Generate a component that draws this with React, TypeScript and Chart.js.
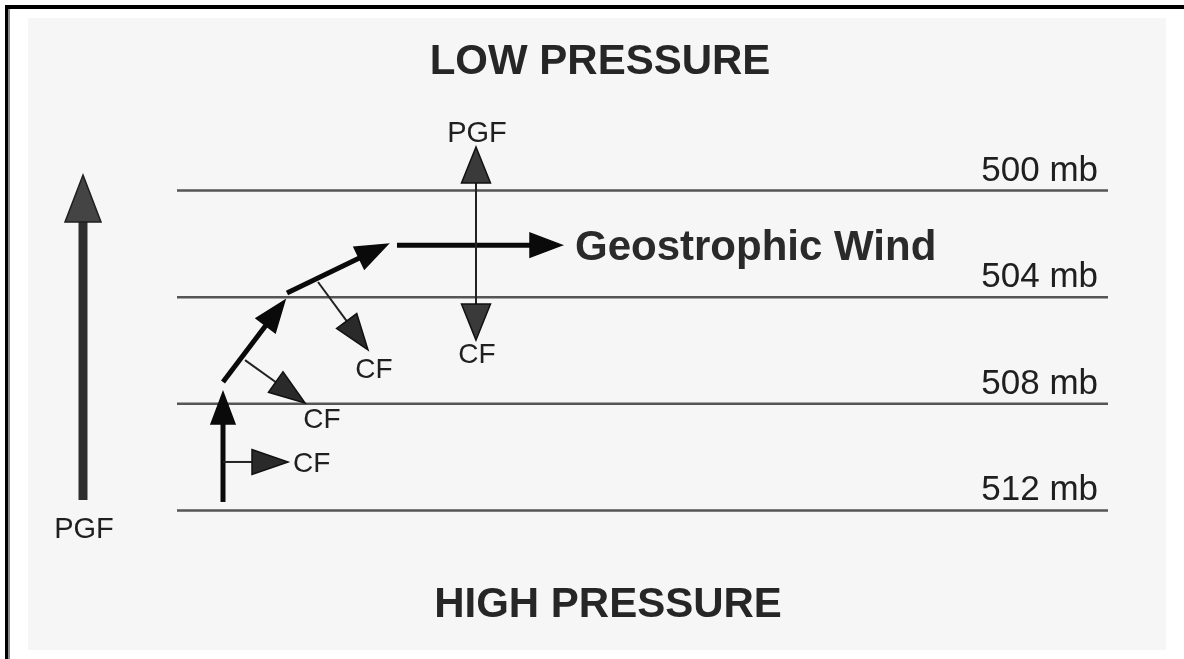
import React, { useEffect, useRef } from "react";
import { Chart, registerables } from "chart.js";

Chart.register(...registerables);

// Isobars (pressure levels, mb)
const isobars = [500, 504, 508, 512];
const isobarLabels = ["500 mb", "504 mb", "508 mb", "512 mb"];
const isobarExtent = [177, 1108]; // horizontal distance units

// Arrows: [x0, p0, x1, p1]  (distance units, pressure mb)
const windPath = [
  [223, 511.68, 223, 507.56],
  [223, 507.18, 285, 504.11],
  [287, 503.84, 388, 502.01],
  [397, 502.05, 562, 502.05],
];
const coriolisArrows = [
  [223, 510.18, 288, 510.18],
  [245, 506.36, 305, 507.97],
  [318, 503.43, 368, 505.98],
];
const balanceArrows = [
  [476, 502.05, 476, 498.37],
  [476, 502.05, 476, 505.61],
];
const bigPgfArrow = [[83, 511.61, 83, 499.42]];

// Text labels: [text, x, p]
const cfLabels = [
  ["CF", 293, 510.56],
  ["CF", 322, 508.91],
  ["CF", 374, 507.03],
  ["CF", 477, 506.47],
];
const pgfLabels = [
  ["PGF", 477, 498.18],
  ["PGF", 84, 513.03],
];
const titleLabels = [
  ["LOW PRESSURE", 600, 495.63],
  ["HIGH PRESSURE", 608, 515.99],
];
const windLabel = ["Geostrophic Wind", 575, 502.61];

const FONT = '"Liberation Sans", Arial, Helvetica, sans-serif';

type Style = { w: number; color: string; headLen: number; headW: number; headFill: string; headStroke: string };
const groups: { arrows: number[][]; style: Style }[] = [
  { arrows: bigPgfArrow, style: { w: 9, color: "#2e2e2e", headLen: 47, headW: 36, headFill: "#444", headStroke: "#1e1e1e" } },
  { arrows: windPath, style: { w: 5, color: "#0a0a0a", headLen: 32, headW: 24, headFill: "#0a0a0a", headStroke: "#0a0a0a" } },
  { arrows: coriolisArrows, style: { w: 2, color: "#222", headLen: 36, headW: 25, headFill: "#2a2a2a", headStroke: "#111" } },
  { arrows: balanceArrows, style: { w: 2, color: "#222", headLen: 36, headW: 29, headFill: "#3a3a3a", headStroke: "#111" } },
];

const diagramPlugin = {
  id: "diagram",
  afterDatasetsDraw(chart: any) {
    const { ctx, scales } = chart;
    const xs = scales.x;
    const ys = scales.y;
    ctx.save();
    for (const g of groups) {
      const s = g.style;
      for (const a of g.arrows) {
        const x0 = xs.getPixelForValue(a[0]);
        const y0 = ys.getPixelForValue(a[1]);
        const x1 = xs.getPixelForValue(a[2]);
        const y1 = ys.getPixelForValue(a[3]);
        const len = Math.hypot(x1 - x0, y1 - y0);
        const ux = (x1 - x0) / len;
        const uy = (y1 - y0) / len;
        const bx = x1 - ux * s.headLen;
        const by = y1 - uy * s.headLen;
        ctx.beginPath();
        ctx.moveTo(x0, y0);
        ctx.lineTo(bx + ux * 2, by + uy * 2);
        ctx.lineWidth = s.w;
        ctx.strokeStyle = s.color;
        ctx.lineCap = "butt";
        ctx.stroke();
        const px = -uy;
        const py = ux;
        ctx.beginPath();
        ctx.moveTo(x1, y1);
        ctx.lineTo(bx + px * s.headW / 2, by + py * s.headW / 2);
        ctx.lineTo(bx - px * s.headW / 2, by - py * s.headW / 2);
        ctx.closePath();
        ctx.fillStyle = s.headFill;
        ctx.fill();
        ctx.lineWidth = 1.5;
        ctx.lineJoin = "miter";
        ctx.strokeStyle = s.headStroke;
        ctx.stroke();
      }
    }
    ctx.textBaseline = "alphabetic";
    ctx.fillStyle = "#1f1f1f";
    // isobar labels
    ctx.font = `35px ${FONT}`;
    ctx.textAlign = "right";
    isobars.forEach((p, i) => {
      ctx.fillText(isobarLabels[i], xs.getPixelForValue(1098), ys.getPixelForValue(p - 0.375));
    });
    ctx.font = `28px ${FONT}`;
    ctx.textAlign = "left";
    const first = cfLabels[0];
    ctx.fillText(first[0] as string, xs.getPixelForValue(first[1] as number), ys.getPixelForValue(first[2] as number));
    ctx.textAlign = "center";
    cfLabels.slice(1).forEach((l) => {
      ctx.fillText(l[0] as string, xs.getPixelForValue(l[1] as number), ys.getPixelForValue(l[2] as number));
    });
    ctx.font = `29px ${FONT}`;
    pgfLabels.forEach((l) => {
      ctx.fillText(l[0] as string, xs.getPixelForValue(l[1] as number), ys.getPixelForValue(l[2] as number));
    });
    ctx.fillStyle = "#262626";
    ctx.font = `bold 42px ${FONT}`;
    titleLabels.forEach((l) => {
      ctx.fillText(l[0] as string, xs.getPixelForValue(l[1] as number), ys.getPixelForValue(l[2] as number));
    });
    ctx.textAlign = "left";
    ctx.fillStyle = "#2a2a2a";
    ctx.font = `bold 42px ${FONT}`;
    ctx.fillText(windLabel[0] as string, xs.getPixelForValue(windLabel[1] as number), ys.getPixelForValue(windLabel[2] as number));
    ctx.restore();
  },
};

export default function App() {
  const ref = useRef<HTMLCanvasElement | null>(null);
  useEffect(() => {
    if (!ref.current) return;
    const datasets = isobars.map((p) => ({
      label: `${p} mb`,
      data: isobarExtent.map((x) => ({ x, y: p })),
      showLine: true,
      borderColor: "#555",
      borderWidth: 2.5,
      pointRadius: 0,
      fill: false,
    }));
    const chart = new Chart(ref.current, {
      type: "scatter",
      data: { datasets },
      options: {
        animation: false,
        responsive: false,
        devicePixelRatio: 1,
        layout: { padding: 0 },
        plugins: { legend: { display: false }, tooltip: { enabled: false }, title: { display: false } },
        scales: {
          x: { type: "linear", display: false, min: 0, max: 1184 },
          y: { type: "linear", display: false, min: 492.856, max: 517.569, reverse: true },
        },
      },
      plugins: [diagramPlugin],
    } as any);
    return () => chart.destroy();
  }, []);
  return (
    <div style={{ position: "fixed", left: 0, top: 0, width: 1184, height: 659, background: "#fff", overflow: "hidden" }}>
      <div style={{ position: "absolute", left: 5, top: 5, right: 0, height: 4, background: "#000" }} />
      <div style={{ position: "absolute", left: 5, top: 5, width: 3, bottom: 0, background: "#000" }} />
      <div style={{ position: "absolute", left: 8, top: 9, width: 2, bottom: 0, background: "#8a8a8a" }} />
      <div style={{ position: "absolute", left: 28, top: 18, width: 1138, height: 632, background: "#f6f6f6" }} />
      <canvas ref={ref} width={1184} height={659} style={{ position: "absolute", left: 0, top: 0, width: 1184, height: 659 }} />
    </div>
  );
}
